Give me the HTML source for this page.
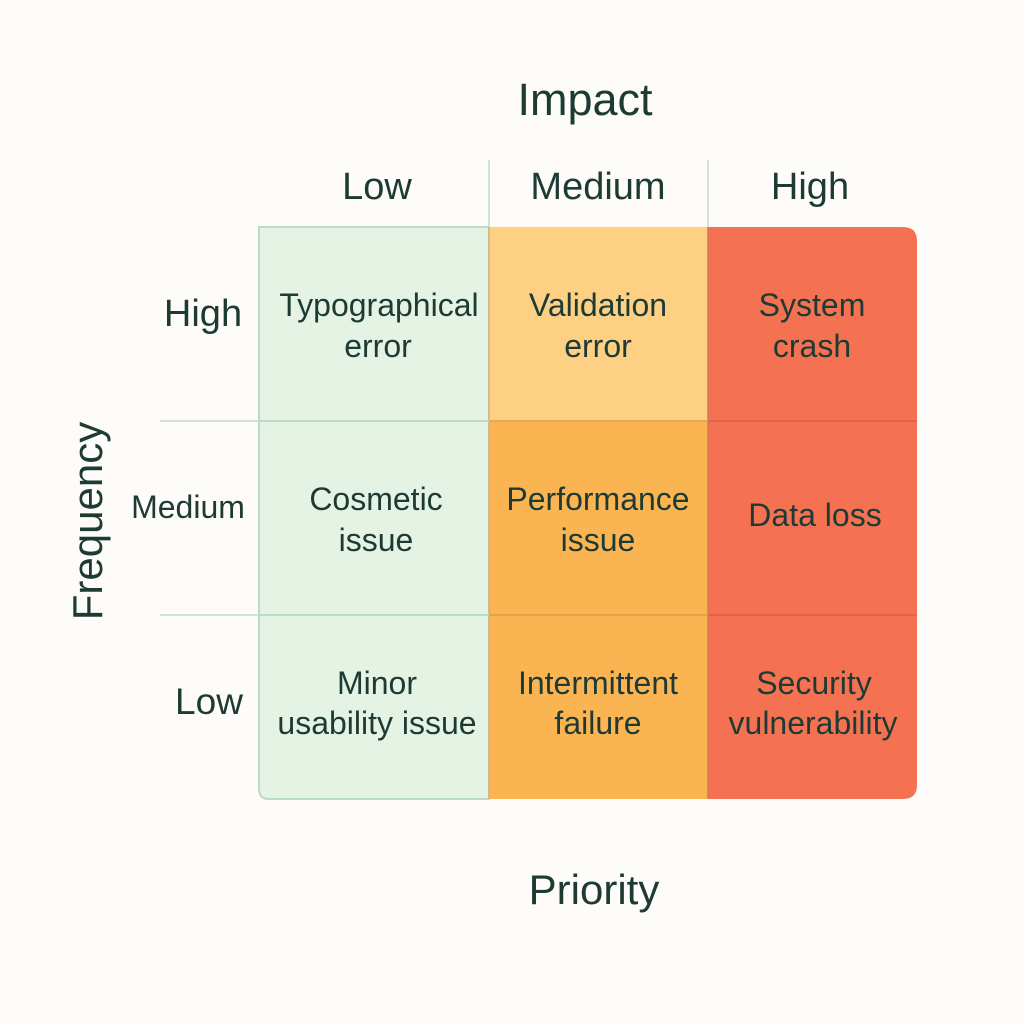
<!DOCTYPE html>
<html><head><meta charset="utf-8"><style>
html,body{margin:0;padding:0;background:#fdfcf8;}
svg{display:block}
text{font-family:"Liberation Sans",sans-serif;fill:#1d3a34;text-anchor:middle}
</style></head><body>
<svg width="1024" height="1024" viewBox="0 0 1024 1024">
<rect width="1024" height="1024" fill="#fdfcf8"/>
<line x1="489" y1="160" x2="489" y2="227" stroke="#cfe3d6" stroke-width="2"/>
<line x1="708" y1="160" x2="708" y2="227" stroke="#cfe3d6" stroke-width="2"/>
<line x1="160" y1="421" x2="259" y2="421" stroke="#cfe3d6" stroke-width="2"/>
<line x1="160" y1="615" x2="259" y2="615" stroke="#cfe3d6" stroke-width="2"/>
<path d="M259 227 H489 V799 H269 Q259 799 259 789 Z" fill="#e5f3e4" stroke="#b9dcc6" stroke-width="2"/>
<rect x="489" y="227" width="219" height="194" fill="#fdd083"/>
<rect x="489" y="421" width="219" height="378" fill="#fbb452"/>
<path d="M708 227 H903 Q917 227 917 241 V785 Q917 799 903 799 H708 Z" fill="#f47252"/>
<line x1="489" y1="227" x2="489" y2="799" stroke="#d9b07a" stroke-width="1.5"/>
<line x1="708" y1="227" x2="708" y2="799" stroke="#d8794f" stroke-width="1.5"/>
<line x1="259" y1="421" x2="489" y2="421" stroke="#b9dcc6" stroke-width="2"/>
<line x1="259" y1="615" x2="489" y2="615" stroke="#b9dcc6" stroke-width="2"/>
<line x1="489" y1="421" x2="708" y2="421" stroke="#e0a050" stroke-width="1.5"/>
<line x1="489" y1="615" x2="708" y2="615" stroke="#e09a45" stroke-width="1.5"/>
<line x1="708" y1="421" x2="917" y2="421" stroke="#d8604a" stroke-width="1.5"/>
<line x1="708" y1="615" x2="917" y2="615" stroke="#d8604a" stroke-width="1.5"/>

<text x="585" y="115" font-size="45">Impact</text>
<text x="377" y="199" font-size="38">Low</text>
<text x="598" y="199" font-size="38">Medium</text>
<text x="810" y="199" font-size="38">High</text>
<text x="203" y="326" font-size="38">High</text>
<text x="188" y="518" font-size="32">Medium</text>
<text x="209" y="714" font-size="37">Low</text>
<text transform="translate(102,521) rotate(-90)" font-size="42">Frequency</text>
<text x="594" y="904" font-size="42">Priority</text>

<g font-size="32">
<text x="379" y="316">Typographical</text><text x="378" y="357">error</text>
<text x="598" y="316">Validation</text><text x="598" y="357">error</text>
<text x="812" y="316">System</text><text x="812" y="357">crash</text>
<text x="376" y="510">Cosmetic</text><text x="376" y="551">issue</text>
<text x="598" y="510">Performance</text><text x="598" y="551">issue</text>
<text x="815" y="526">Data loss</text>
<text x="377" y="694">Minor</text><text x="377" y="734">usability issue</text>
<text x="598" y="694">Intermittent</text><text x="598" y="734">failure</text>
<text x="814" y="694">Security</text><text x="813" y="734">vulnerability</text>
</g>
</svg>
</body></html>
